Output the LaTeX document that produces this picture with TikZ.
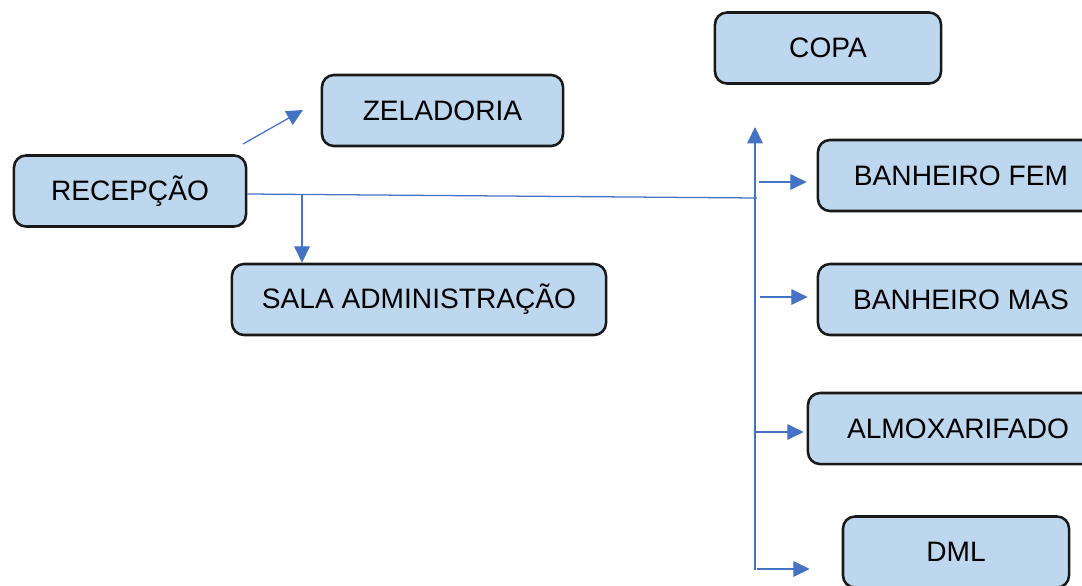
\documentclass[tikz,border=0pt]{standalone}
\usepackage{fontspec}
\setmainfont{Liberation Sans}
\usetikzlibrary{positioning, calc, arrows.meta}
\definecolor{roomfill}{HTML}{BDD7EE}
\definecolor{flow}{HTML}{4472C4}

\begin{document}
\begin{tikzpicture}[
    x=0.025cm, y=-0.025cm,
    room/.style={
        draw=black!90,
        line width=1.8pt,
        fill=roomfill,
        rounded corners=0.3cm,
        minimum height=1.775cm,
        inner sep=0,
        font=\fontsize{20}{24}\selectfont,
      },
    link/.style={draw=flow, line width=0.9pt},
    arrow/.style={link, -{Triangle[length=0.41cm, width=0.39cm]}},
  ]
  \useasboundingbox (0,0) rectangle (1082,585);

  % left side
  \node[room, minimum width=5.8cm] (recepcao) at (130,191) {RECEPÇÃO};
  \node[room, minimum width=6.025cm] (zeladoria) at (442.5,110.5) {ZELADORIA};
  \node[room, minimum width=9.35cm] (sala) at (419,299.5) {SALA ADMINISTRAÇÃO};

  % right side
  \node[room, minimum width=5.65cm] (copa) at (828,48) {COPA};
  \node[room, minimum width=7.15cm] (banfem) at (961,175.5) {BANHEIRO FEM};
  \node[room, minimum width=7.15cm] (banmas) at (961,299.5) {BANHEIRO MAS};
  \node[room, minimum width=7.5cm] (almox) at (958,428.5) {ALMOXARIFADO};
  \node[room, minimum width=5.65cm] (dml) at (956,552) {DML};

  \coordinate (zstart) at (243,144);
  \coordinate (zend) at (303,110);
  \coordinate (hub) at (757,198);
  \coordinate (drop) at (302,195);
  \coordinate (bustop) at (755,127);
  \coordinate (busbot) at (755,570);

  \draw[arrow] (zstart) -- (zend);
  \draw[link] (recepcao.east) ++(0,3) -- (hub);
  \draw[arrow] (drop) -- (drop |- sala.north);
  \draw[arrow] (busbot) -- (bustop);

  \foreach \room/\y/\xa/\gap in {banfem/182/759/10, banmas/297/760/9, almox/432/755/3, dml/569/757/32} {
      \coordinate (branch-\room) at (\xa,\y);
      \draw[arrow, shorten >=\gap*0.025cm] (branch-\room) -- (branch-\room -| \room.west);
    }
\end{tikzpicture}
\end{document}
